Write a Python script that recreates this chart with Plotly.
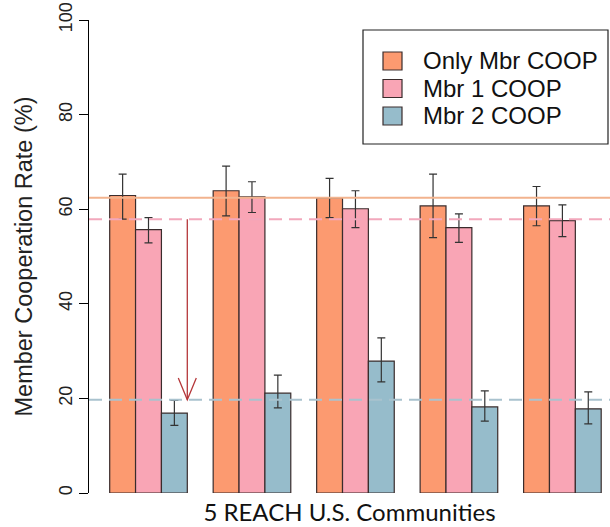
import plotly.graph_objects as go

communities = ["C1", "C2", "C3", "C4", "C5"]
series_names = ["Only Mbr COOP", "Mbr 1 COOP", "Mbr 2 COOP"]
only_mbr = [62.9, 63.9, 62.4, 60.7, 60.7]
only_mbr_hi = [67.4, 69.1, 66.5, 67.4, 64.8]
only_mbr_lo = [57.9, 58.6, 58.2, 54.0, 56.5]
mbr1 = [55.7, 62.6, 60.1, 56.1, 57.6]
mbr1_hi = [58.2, 65.8, 63.9, 59.0, 60.9]
mbr1_lo = [52.9, 59.3, 56.1, 53.0, 54.2]
mbr2 = [16.9, 21.1, 27.9, 18.2, 17.8]
mbr2_hi = [19.6, 24.9, 32.8, 21.6, 21.4]
mbr2_lo = [14.3, 18.0, 23.5, 15.2, 14.6]
ref_lines = [62.4, 57.9, 19.7]  # overall means: only, mbr1, mbr2
y_ticks = [0, 20, 40, 60, 80, 100]

colors = ["#FC9A70", "#F9A5B5", "#96BCCB"]
line_colors = ["#F2B38E", "#F2A8BC", "#A9C2CE"]
outline = "#3a2c2c"
FONT = "Liberation Sans, Arial"

W, H = 610, 527
ML, MR, MT, MB = 89, 0, 20, 34
PW, PH = W - ML - MR, H - MT - MB


def px(x):
    return (x - ML) / PW


def py(y):
    return 1 - (y - MT) / PH


fig = go.Figure()
series = [(only_mbr, only_mbr_hi, only_mbr_lo), (mbr1, mbr1_hi, mbr1_lo), (mbr2, mbr2_hi, mbr2_lo)]
for name, (vals, hi, lo), col in zip(series_names, series, colors):
    fig.add_trace(go.Bar(
        x=communities, y=vals, name=name, showlegend=False,
        marker=dict(color=col, line=dict(color=outline, width=1.2)),
        error_y=dict(type="data", symmetric=False,
                     array=[h - v for h, v in zip(hi, vals)],
                     arrayminus=[v - l for v, l in zip(vals, lo)],
                     color="#333333", thickness=1.2, width=4),
    ))

# reference lines
for val, col, dash in zip(ref_lines, line_colors, ["solid", "13px,7px", "13px,7px"]):
    fig.add_shape(type="line", xref="paper", x0=0, x1=1, yref="y", y0=val, y1=val,
                  line=dict(color=col, width=2, dash=dash), layer="above")

# arrow from Mbr1 mean down to Mbr2 mean, at right edge of first group's blue bar
ax = 0.375
fig.add_shape(type="line", xref="x", yref="y", x0=ax, x1=ax, y0=ref_lines[1], y1=ref_lines[2],
              line=dict(color="#B5373A", width=1.3))
fig.add_shape(type="path", xref="x", yref="y",
              path=f"M {ax-0.087},{ref_lines[2]+4.6} L {ax},{ref_lines[2]} L {ax+0.087},{ref_lines[2]+4.6}",
              line=dict(color="#B5373A", width=1.3))

# legend box (drawn manually to match the original layout)
fig.add_shape(type="rect", xref="paper", yref="paper", x0=px(363), x1=px(608), y0=py(144), y1=py(30),
              line=dict(color="#222222", width=1.2), fillcolor="white", layer="above")
for i, (name, col) in enumerate(zip(series_names, colors)):
    cy = 61 + i * 27.5
    fig.add_shape(type="rect", xref="paper", yref="paper", x0=px(383), x1=px(402),
                  y0=py(cy + 9), y1=py(cy - 9), fillcolor=col,
                  line=dict(color=outline, width=1.2), layer="above")
    fig.add_annotation(xref="paper", yref="paper", x=px(421), y=py(cy), xanchor="left", yanchor="middle",
                       text=name, showarrow=False, font=dict(family=FONT, size=24, color="#111111"))

fig.update_layout(
    width=W, height=H,
    margin=dict(l=ML, r=MR, t=MT, b=MB),
    plot_bgcolor="white", paper_bgcolor="white",
    barmode="group", bargap=0.25, bargroupgap=0,
    font=dict(family=FONT, color="#111111"),
    showlegend=False,
    xaxis=dict(range=[-0.575, 4.46], showticklabels=False, ticks="", showline=False,
               showgrid=False, zeroline=False,
               title=dict(text="5 REACH U.S. Communities", standoff=11,
                          font=dict(family="Lato", size=24, color="#111111"))),
    yaxis=dict(range=[0, 100], tickvals=y_ticks, ticks="outside", ticklen=9, tickcolor="black",
               showline=True, linecolor="black", linewidth=1, showgrid=False, zeroline=False,
               tickangle=-90, tickfont=dict(family=FONT, size=18, color="#222222"),
               title=dict(text="Member Cooperation Rate (%)", standoff=16,
                          font=dict(family=FONT, size=23.5, color="#222222"))),
)

fig.write_html("out.html")
